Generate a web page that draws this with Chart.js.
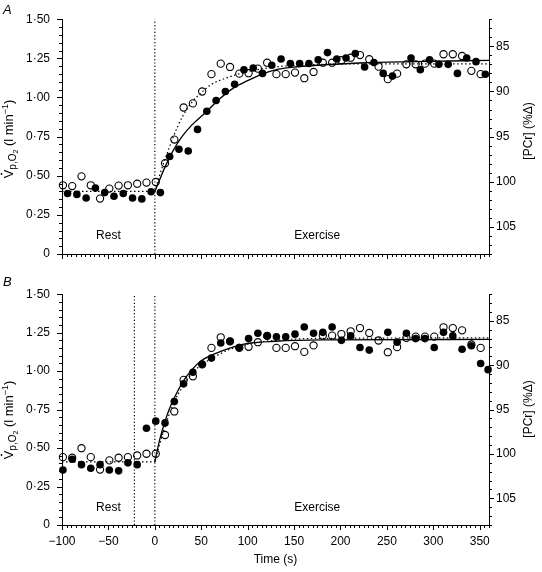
<!DOCTYPE html>
<html>
<head>
<meta charset="utf-8">
<script src="https://cdn.jsdelivr.net/npm/chart.js@4.4.0/dist/chart.umd.min.js"></script>
<style>
  body { margin: 0; background: #fff; }
  canvas { position: absolute; left: 0; }
  #chartA { top: 0; }
  #chartB { top: 275px; }
</style>
</head>
<body>
<canvas id="chartA" width="542" height="275"></canvas>
<canvas id="chartB" width="542" height="297"></canvas>
<script>
// == tick labels ==
const timeTicks = [-100, -50, 0, 50, 100, 150, 200, 250, 300, 350];
const vo2Ticks = [0, 0.25, 0.5, 0.75, 1.0, 1.25, 1.5];
const pcrTicks = [85, 90, 95, 100, 105];

// == panel A : open = VO2 (l/min), filled = [PCr] (%) ==
const openTimesA = [-99, -89, -79, -69, -59, -49, -39, -29, -19, -9, 1, 11, 21, 31, 41, 51, 61, 71, 81, 91, 101, 111, 121, 131, 141, 151, 161, 171, 181, 191, 201, 211, 221, 231, 241, 251, 261, 271, 281, 291, 301, 311, 321, 331, 341, 351];
const openVO2A = [0.439, 0.434, 0.496, 0.439, 0.354, 0.418, 0.437, 0.439, 0.449, 0.456, 0.460, 0.580, 0.731, 0.936, 0.962, 1.038, 1.149, 1.216, 1.195, 1.152, 1.155, 1.184, 1.222, 1.149, 1.149, 1.159, 1.123, 1.163, 1.222, 1.222, 1.238, 1.254, 1.271, 1.244, 1.197, 1.117, 1.152, 1.212, 1.212, 1.216, 1.216, 1.276, 1.276, 1.265, 1.170, 1.149];
const filledTimesA = [-94, -84, -74, -64, -54, -44, -34, -24, -14, -4, 6, 16, 26, 36, 46, 56, 66, 76, 86, 96, 106, 116, 126, 136, 146, 156, 166, 176, 186, 196, 206, 216, 226, 236, 246, 256, 266, 276, 286, 296, 306, 316, 326, 336, 346, 356];
const filledPCrA = [101.3, 101.4, 101.8, 100.7, 101.2, 101.6, 101.3, 101.8, 101.9, 101.1, 101.2, 97.2, 96.4, 96.6, 94.2, 92.2, 91.0, 90.0, 89.2, 87.6, 87.4, 88.0, 87.1, 86.4, 86.9, 86.9, 86.9, 86.5, 85.7, 86.4, 86.3, 85.8, 87.3, 86.8, 88.0, 88.3, null, 86.3, 87.6, 86.5, 87.0, 87.0, 88.0, 86.3, 86.7, 88.1];
// fitted curves
const solidTimesA = [0, 10, 20, 30, 40, 55, 70, 85, 100, 115, 130, 150, 175, 220, 280, 360];
const solidPCrA = [101.1, 98.6, 96.5, 94.9, 93.7, 92.3, 90.8, 89.6, 88.8, 88.1, 87.6, 87.3, 87.1, 86.85, 86.7, 86.55];
const baseTimesA = [-100, 0];
const baseVO2A = [0.40, 0.40];
const dotTimesA = [0, 5, 10, 15, 20, 25, 30, 40, 50, 60, 75, 100, 130, 170, 220, 360];
const dotVO2A = [0.40, 0.50, 0.59, 0.67, 0.75, 0.82, 0.88, 0.97, 1.03, 1.08, 1.12, 1.165, 1.195, 1.21, 1.214, 1.214];
const markersA = [0];

// == panel B ==
const openTimesB = [-99, -89, -79, -69, -59, -49, -39, -29, -19, -9, 1, 11, 21, 31, 41, 51, 61, 71, 81, 91, 101, 111, 121, 131, 141, 151, 161, 171, 181, 191, 201, 211, 221, 231, 241, 251, 261, 271, 281, 291, 301, 311, 321, 331, 341, 351];
const openVO2B = [0.441, 0.437, 0.499, 0.441, 0.360, 0.420, 0.437, 0.441, 0.452, 0.463, 0.463, 0.585, 0.738, 0.943, 0.966, 1.044, 1.151, 1.220, 1.194, 1.151, 1.158, 1.188, 1.229, 1.151, 1.151, 1.162, 1.125, 1.167, 1.231, 1.231, 1.241, 1.259, 1.280, 1.248, 1.199, 1.123, 1.156, 1.216, 1.224, 1.224, 1.224, 1.285, 1.280, 1.265, 1.173, 1.151];
const filledTimesB = [-99, -89, -79, -69, -59, -49, -39, -29, -19, -9, 1, 11, 21, 31, 41, 51, 61, 71, 81, 91, 101, 111, 121, 131, 141, 151, 161, 171, 181, 191, 201, 211, 221, 231, 241, 251, 261, 271, 281, 291, 301, 311, 321, 331, 341, 351, 359];
const filledPCrB = [101.8, 100.6, 101.2, 101.6, 101.2, 101.8, 101.9, 101.0, 101.2, 97.1, 96.3, 96.5, 94.1, 92.1, 90.8, 89.9, 89.2, 87.5, 87.3, 88.0, 87.0, 86.4, 86.7, 86.8, 86.8, 86.5, 85.7, 86.4, 86.3, 85.7, 87.2, 86.7, 88.0, 88.3, null, 86.3, 87.4, 86.4, 87.0, 87.0, 88.0, 86.3, 86.7, 88.2, 87.8, 89.8, 90.5];
const solidTimesB = [0, 5, 10, 15, 20, 30, 40, 50, 65, 80, 100, 130, 180, 360];
const solidPCrB = [100.9, 98.5, 96.65, 95.1, 93.9, 91.9, 90.5, 89.5, 88.7, 88.1, 87.55, 87.3, 87.15, 87.1];
const baseTimesB = [-100, 0];
const baseVO2B = [0.41, 0.41];
const dotTimesB = [0, 5, 10, 15, 20, 30, 40, 50, 65, 80, 100, 130, 180, 360];
const dotVO2B = [0.41, 0.52, 0.62, 0.71, 0.79, 0.90, 0.985, 1.04, 1.095, 1.14, 1.175, 1.20, 1.213, 1.216];
const markersB = [-22, 0];

const FONT = '"Liberation Sans", Arial, Helvetica, sans-serif';
Chart.defaults.font.family = FONT;
Chart.defaults.font.size = 12;
Chart.defaults.color = "#000";

const fmtTime = v => v < 0 ? "\u2212" + Math.abs(v) : String(v);
const fmtVO2 = v => v === 0 ? "0" : v.toFixed(2).replace(".", "\u00b7");

// minor + major tick marks, axis titles and in-plot text
function tickMarks(ctx, scale, step, major, side, area) {
    const n = Math.round((scale.max - scale.min) / step);
    for (let i = 0; i <= n; i++) {
        const v = scale.min + i * step;
        const isMajor = Math.abs(v / major - Math.round(v / major)) < 1e-6;
        const len = isMajor ? 5 : 3;
        const p = Math.round(scale.getPixelForValue(v)) + 0.5;
        ctx.beginPath();
        if (side === "bottom") { ctx.moveTo(p, area.bottom); ctx.lineTo(p, area.bottom + len); }
        if (side === "left") { ctx.moveTo(area.left, p); ctx.lineTo(area.left - len, p); }
        if (side === "right") { ctx.moveTo(area.right, p); ctx.lineTo(area.right + len, p); }
        ctx.stroke();
    }
}

function drawRuns(ctx, runs, bx, cy) {
    let w = 0;
    runs.forEach(r => { ctx.font = r.font; r.w = ctx.measureText(r.t).width; w += r.w; });
    ctx.save();
    ctx.translate(bx, cy);
    ctx.rotate(-Math.PI / 2);
    ctx.textAlign = "left";
    ctx.textBaseline = "alphabetic";
    let xx = -w / 2;
    runs.forEach(r => {
        ctx.font = r.font;
        ctx.fillText(r.t, xx, r.dy || 0);
        if (r.dot) {
            ctx.beginPath();
            ctx.arc(xx + r.w / 2, -11.5, 0.9, 0, Math.PI * 2);
            ctx.fill();
        }
        xx += r.w;
    });
    ctx.restore();
}

const decor = {
    id: "decor",
    afterDraw(chart, args, o) {
        const ctx = chart.ctx;
        const area = chart.chartArea;
        const { x, y, y2 } = chart.scales;
        ctx.save();
        ctx.strokeStyle = "#000";
        ctx.fillStyle = "#000";
        ctx.lineWidth = 1;
        tickMarks(ctx, x, 5, 50, "bottom", area);
        tickMarks(ctx, y, 0.05, 0.25, "left", area);
        tickMarks(ctx, y2, 1, 5, "right", area);

        // left title: V̇p,O2 (l min-1)
        drawRuns(ctx, [
            { t: "V", font: "13px " + FONT, dot: true },
            { t: "p,O", font: "10px " + FONT, dy: 3 },
            { t: "2", font: "7px " + FONT, dy: 5 },
            { t: " (l min", font: "13px " + FONT },
            { t: "\u22121", font: "9px " + FONT, dy: -5 },
            { t: ")", font: "13px " + FONT }
        ], 13, o.leftTitleY);
        // right title
        drawRuns(ctx, [{ t: "[PCr] (%\u0394)", font: "12px " + FONT }], 532, o.rightTitleY);

        ctx.font = "12px " + FONT;
        ctx.textAlign = "center";
        ctx.textBaseline = "middle";
        ctx.fillText("Rest", x.getPixelForValue(-50), y.getPixelForValue(0.115));
        ctx.fillText("Exercise", x.getPixelForValue(175), y.getPixelForValue(0.115));

        ctx.font = "italic 13px " + FONT;
        ctx.textAlign = "left";
        ctx.textBaseline = "alphabetic";
        ctx.fillText(o.letter, 3, o.letterY);
        ctx.restore();
    }
};

const pts = (xs, ys) => xs.map((t, i) => ({ x: t, y: ys[i] }));

function makeChart(id, p) {
    const vMin = vo2Ticks[0], vMax = vo2Ticks[vo2Ticks.length - 1];
    const markerSets = p.markers.map(t => ({
        data: [{ x: t, y: vMin }, { x: t, y: vMax }], yAxisID: "y", showLine: true,
        borderColor: "#000", borderWidth: 1.2, borderDash: [1.2, 2.2], pointRadius: 0, order: 5
    }));
    return new Chart(document.getElementById(id), {
        type: "scatter",
        data: {
            datasets: [
                { data: pts(p.openT, p.openV), yAxisID: "y", pointRadius: 3.6, pointBorderWidth: 1.1,
                  pointBorderColor: "#000", pointBackgroundColor: "rgba(0,0,0,0)", clip: false, order: 0 },
                { data: pts(p.fillT, p.fillP), yAxisID: "y2", pointRadius: 3.8, pointBorderWidth: 0,
                  pointBackgroundColor: "#000", pointBorderColor: "#000", clip: false, order: 1 },
                { data: pts(p.solidT, p.solidP), yAxisID: "y2", showLine: true, borderColor: "#000",
                  borderWidth: 1.3, pointRadius: 0, cubicInterpolationMode: "monotone", order: 2 },
                { data: pts(p.baseT, p.baseV), yAxisID: "y", showLine: true, borderColor: "#000",
                  borderWidth: 1.2, borderDash: [1.5, 2.5], pointRadius: 0, order: 3 },
                { data: pts(p.dotT, p.dotV), yAxisID: "y", showLine: true, borderColor: "#000",
                  borderWidth: 1.2, borderDash: [1.5, 2.5], pointRadius: 0, cubicInterpolationMode: "monotone", order: 4 },
                ...markerSets
            ]
        },
        options: {
            responsive: false,
            animation: false,
            layout: { autoPadding: false, padding: { top: 18, left: 0, right: 0, bottom: 0 } },
            plugins: {
                legend: { display: false },
                tooltip: { enabled: false },
                decor: p.decor
            },
            scales: {
                x: {
                    type: "linear", position: "bottom", min: -100, max: 360,
                    grid: { drawOnChartArea: false, drawTicks: false },
                    border: { display: true, color: "#000", width: 1 },
                    afterBuildTicks: s => { s.ticks = timeTicks.map(v => ({ value: v })); },
                    ticks: { display: p.showX, autoSkip: false, maxRotation: 0, padding: 9, callback: fmtTime },
                    title: { display: p.showX, text: "Time (s)", padding: { top: 0, bottom: 5 } },
                    afterFit: s => { s.height = p.xHeight; }
                },
                y: {
                    type: "linear", position: "left", min: vMin, max: vMax,
                    grid: { drawOnChartArea: false, drawTicks: false },
                    border: { display: true, color: "#000", width: 1 },
                    afterBuildTicks: s => { s.ticks = vo2Ticks.map(v => ({ value: v })); },
                    ticks: { autoSkip: false, padding: 12, callback: fmtVO2 },
                    afterFit: s => { s.width = 62; }
                },
                y2: {
                    type: "linear", position: "right", min: 82, max: 108, reverse: true,
                    grid: { drawOnChartArea: false, drawTicks: false },
                    border: { display: true, color: "#000", width: 1 },
                    afterBuildTicks: s => { s.ticks = pcrTicks.map(v => ({ value: v })); },
                    ticks: { autoSkip: false, padding: 7 },
                    afterFit: s => { s.width = 53; }
                }
            }
        },
        plugins: [decor]
    });
}

makeChart("chartA", {
    openT: openTimesA, openV: openVO2A, fillT: filledTimesA, fillP: filledPCrA,
    solidT: solidTimesA, solidP: solidPCrA, baseT: baseTimesA, baseV: baseVO2A,
    dotT: dotTimesA, dotV: dotVO2A, markers: markersA,
    showX: false, xHeight: 21,
    decor: { letter: "A", letterY: 14, leftTitleY: 139, rightTitleY: 131 }
});

makeChart("chartB", {
    openT: openTimesB, openV: openVO2B, fillT: filledTimesB, fillP: filledPCrB,
    solidT: solidTimesB, solidP: solidPCrB, baseT: baseTimesB, baseV: baseVO2B,
    dotT: dotTimesB, dotV: dotVO2B, markers: markersB,
    showX: true, xHeight: 47,
    decor: { letter: "B", letterY: 11, leftTitleY: 145, rightTitleY: 134 }
});
</script>
</body>
</html>
